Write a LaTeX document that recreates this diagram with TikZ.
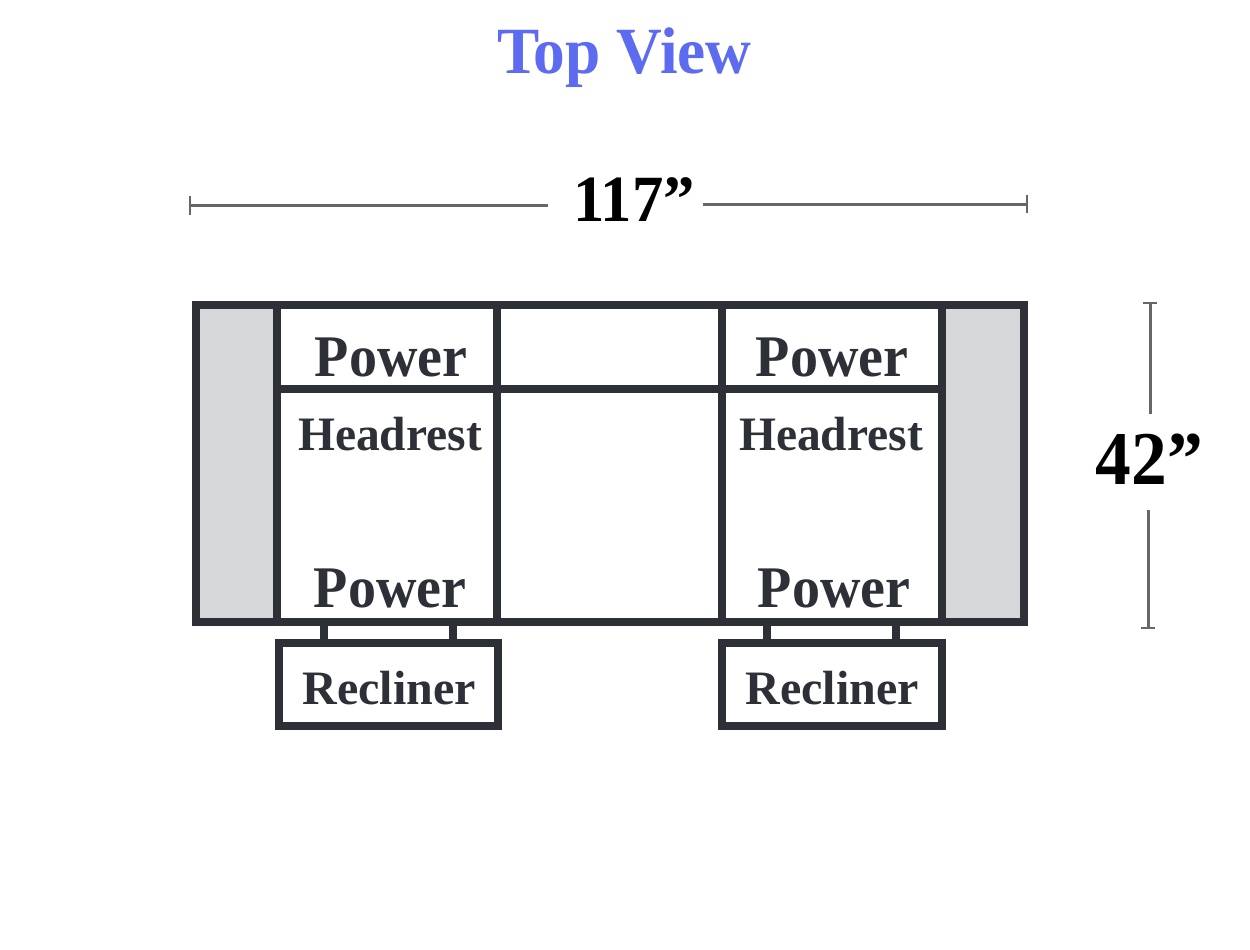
\documentclass[tikz,border=0pt]{standalone}
\usepackage{fontspec}
\setmainfont{Liberation Serif}
\usepackage{tikz}
\definecolor{frameink}{HTML}{2E3038}
\definecolor{armgrey}{HTML}{D5D7D9}
\definecolor{titleblue}{HTML}{5C6BEF}
\definecolor{dimgrey}{HTML}{66666C}
\tikzstyle{wall} = [draw=frameink, line width=8pt]
\tikzstyle{arm} = [wall, fill=armgrey]
\tikzstyle{label} = [inner sep=0pt, anchor=base, text=frameink]
\tikzstyle{dimline} = [draw=dimgrey, line width=3pt]
\tikzstyle{dimtick} = [draw=dimgrey, line width=1.5pt]
\newcommand{\labelsize}[2]{\bfseries\addfontfeature{FakeStretch=#2}\fontsize{#1}{#1}\selectfont}

\begin{document}
\begin{tikzpicture}[x=1pt, y=-1pt]
        \useasboundingbox (0,0) rectangle (1250,950);
        % Title
        \node [label, text=titleblue, font=\labelsize{66}{0.96}] (title) at (624.5,74) {Top View};

        % Overall width
        \node [label, text=black, font=\labelsize{66}{0.95}] (width) at (634,221) {117”};
        \coordinate (wl) at (190,205);
        \coordinate (wm) at (548,205);
        \coordinate (wn) at (703,204);
        \coordinate (wr) at (1027,204);
        \path [dimline] (wl) -- (wm);
        \path [dimline] (wn) -- (wr);
        \path [dimtick] (190,196) -- (wl) -- (190,215);
        \path [dimtick] (1027,195) -- (wr) -- (1027,213);

        % Overall depth
        \node [label, text=black, font=\labelsize{76}{0.94}] (depth) at (1149.5,484) {42”};
        \coordinate (dt) at (1150,303);
        \coordinate (du) at (1150,414);
        \coordinate (dv) at (1148,510);
        \coordinate (db) at (1148,628);
        \path [dimline] (dt) -- (du);
        \path [dimline] (dv) -- (db);
        \path [dimtick] (1143,303) -- (1157,303);
        \path [dimtick] (1141,628) -- (1155,628);

        % Arms
        \path [arm] (196,304.5) rectangle (277,622);
        \path [arm] (942,304.5) rectangle (1024,622);

        % Seats
        \path [wall] (277,304.5) rectangle (942,622);
        \path [wall] (273,389) -- (946,389);
        \path [wall] (496.5,304.5) -- (496.5,622);
        \path [wall] (722,304.5) -- (722,622);

        % Recliner handles
        \path [wall] (279,642.5) rectangle (497.5,726);
        \path [wall] (722,642.5) rectangle (942,726);
        \foreach \stem in {324,453,767,896}
          \path [wall] (\stem,622) -- (\stem,642.5);

        % Labels
        \node [label, font=\labelsize{59}{0.95}] (powa) at (391,376) {Power};
        \node [label, font=\labelsize{48}{0.99}] (heada) at (390,450) {Headrest};
        \node [label, font=\labelsize{59}{0.95}] (powb) at (390,607) {Power};
        \node [label, font=\labelsize{48}{1}] (recla) at (389,704) {Recliner};
        \node [label, font=\labelsize{59}{0.95}] (powc) at (832,376) {Power};
        \node [label, font=\labelsize{48}{0.99}] (headb) at (831,450) {Headrest};
        \node [label, font=\labelsize{59}{0.95}] (powd) at (834,607) {Power};
        \node [label, font=\labelsize{48}{1}] (reclb) at (832,704) {Recliner};
      \end{tikzpicture}
\end{document}
